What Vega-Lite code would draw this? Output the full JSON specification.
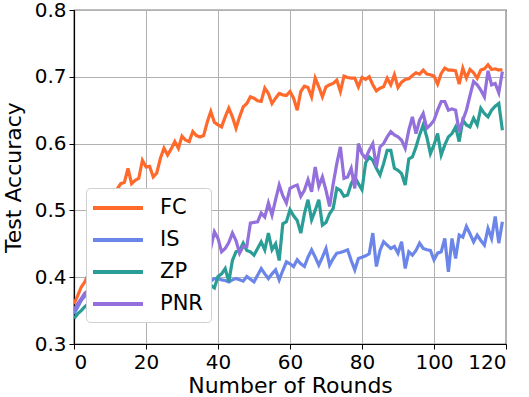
{
  "$schema": "https://vega.github.io/schema/vega-lite/v6.json",
  "width": 432,
  "height": 334,
  "autosize": "none",
  "padding": {"left": 74, "top": 10, "right": 23, "bottom": 53},
  "config": {
    "font": "DejaVu Sans",
    "view": {"stroke": "black", "strokeWidth": 1.2},
    "axis": {
      "domainColor": "black", "domainWidth": 1.2, "tickColor": "black", "tickSize": 5,
      "labelFontSize": 20, "labelColor": "black", "titleFontSize": 22, "titleFontWeight": "normal",
      "titleColor": "black", "gridColor": "#b0b0b0", "gridWidth": 1, "labelPadding": 3
    }
  },
  "data": {"values": [
{"r":0,"FC":0.360,"IS":0.345,"ZP":0.338,"PNR":0.351},
{"r":1,"FC":0.372,"IS":0.355,"ZP":0.345,"PNR":0.360},
{"r":2,"FC":0.385,"IS":0.365,"ZP":0.350,"PNR":0.368},
{"r":3,"FC":0.393,"IS":0.372,"ZP":0.356,"PNR":0.376},
{"r":4,"FC":0.405,"IS":0.378,"ZP":0.360,"PNR":0.380},
{"r":5,"FC":0.418,"IS":0.372,"ZP":0.358,"PNR":0.385},
{"r":6,"FC":0.430,"IS":0.382,"ZP":0.365,"PNR":0.382},
{"r":7,"FC":0.445,"IS":0.378,"ZP":0.362,"PNR":0.390},
{"r":8,"FC":0.458,"IS":0.385,"ZP":0.368,"PNR":0.395},
{"r":9,"FC":0.475,"IS":0.380,"ZP":0.372,"PNR":0.390},
{"r":10,"FC":0.490,"IS":0.388,"ZP":0.366,"PNR":0.398},
{"r":11,"FC":0.510,"IS":0.383,"ZP":0.374,"PNR":0.402},
{"r":12,"FC":0.532,"IS":0.390,"ZP":0.370,"PNR":0.397},
{"r":13,"FC":0.540,"IS":0.386,"ZP":0.378,"PNR":0.405},
{"r":14,"FC":0.542,"IS":0.392,"ZP":0.373,"PNR":0.410},
{"r":15,"FC":0.563,"IS":0.385,"ZP":0.380,"PNR":0.404},
{"r":16,"FC":0.540,"IS":0.390,"ZP":0.376,"PNR":0.412},
{"r":17,"FC":0.545,"IS":0.394,"ZP":0.382,"PNR":0.408},
{"r":18,"FC":0.548,"IS":0.388,"ZP":0.378,"PNR":0.416},
{"r":19,"FC":0.575,"IS":0.393,"ZP":0.384,"PNR":0.420},
{"r":20,"FC":0.565,"IS":0.387,"ZP":0.379,"PNR":0.413},
{"r":21,"FC":0.566,"IS":0.395,"ZP":0.386,"PNR":0.421},
{"r":22,"FC":0.550,"IS":0.390,"ZP":0.381,"PNR":0.425},
{"r":23,"FC":0.556,"IS":0.396,"ZP":0.387,"PNR":0.418},
{"r":24,"FC":0.578,"IS":0.388,"ZP":0.383,"PNR":0.427},
{"r":25,"FC":0.593,"IS":0.394,"ZP":0.389,"PNR":0.430},
{"r":26,"FC":0.583,"IS":0.398,"ZP":0.384,"PNR":0.424},
{"r":27,"FC":0.592,"IS":0.390,"ZP":0.390,"PNR":0.432},
{"r":28,"FC":0.603,"IS":0.395,"ZP":0.386,"PNR":0.436},
{"r":29,"FC":0.593,"IS":0.392,"ZP":0.392,"PNR":0.429},
{"r":30,"FC":0.611,"IS":0.398,"ZP":0.387,"PNR":0.438},
{"r":31,"FC":0.605,"IS":0.393,"ZP":0.393,"PNR":0.442},
{"r":32,"FC":0.603,"IS":0.397,"ZP":0.388,"PNR":0.434},
{"r":33,"FC":0.618,"IS":0.391,"ZP":0.394,"PNR":0.443},
{"r":34,"FC":0.612,"IS":0.396,"ZP":0.389,"PNR":0.446},
{"r":35,"FC":0.610,"IS":0.399,"ZP":0.395,"PNR":0.438},
{"r":36,"FC":0.612,"IS":0.392,"ZP":0.390,"PNR":0.447},
{"r":37,"FC":0.632,"IS":0.397,"ZP":0.394,"PNR":0.450},
{"r":38,"FC":0.648,"IS":0.394,"ZP":0.388,"PNR":0.444},
{"r":39,"FC":0.632,"IS":0.398,"ZP":0.384,"PNR":0.468},
{"r":40,"FC":0.628,"IS":0.398,"ZP":0.401,"PNR":0.458},
{"r":41,"FC":0.625,"IS":0.396,"ZP":0.405,"PNR":0.438},
{"r":42,"FC":0.640,"IS":0.395,"ZP":0.413,"PNR":0.443},
{"r":43,"FC":0.653,"IS":0.393,"ZP":0.393,"PNR":0.452},
{"r":44,"FC":0.640,"IS":0.396,"ZP":0.425,"PNR":0.466},
{"r":45,"FC":0.623,"IS":0.398,"ZP":0.438,"PNR":0.455},
{"r":46,"FC":0.640,"IS":0.396,"ZP":0.440,"PNR":0.436},
{"r":47,"FC":0.655,"IS":0.394,"ZP":0.451,"PNR":0.446},
{"r":48,"FC":0.660,"IS":0.401,"ZP":0.440,"PNR":0.446},
{"r":49,"FC":0.670,"IS":0.397,"ZP":0.438,"PNR":0.481},
{"r":50,"FC":0.668,"IS":0.393,"ZP":0.433,"PNR":0.482},
{"r":51,"FC":0.664,"IS":0.403,"ZP":0.443,"PNR":0.483},
{"r":52,"FC":0.663,"IS":0.413,"ZP":0.453,"PNR":0.496},
{"r":53,"FC":0.683,"IS":0.405,"ZP":0.441,"PNR":0.490},
{"r":54,"FC":0.675,"IS":0.398,"ZP":0.466,"PNR":0.511},
{"r":55,"FC":0.660,"IS":0.405,"ZP":0.441,"PNR":0.493},
{"r":56,"FC":0.668,"IS":0.411,"ZP":0.450,"PNR":0.516},
{"r":57,"FC":0.675,"IS":0.396,"ZP":0.425,"PNR":0.538},
{"r":58,"FC":0.673,"IS":0.410,"ZP":0.480,"PNR":0.522},
{"r":59,"FC":0.672,"IS":0.423,"ZP":0.483,"PNR":0.511},
{"r":60,"FC":0.678,"IS":0.420,"ZP":0.501,"PNR":0.533},
{"r":61,"FC":0.668,"IS":0.416,"ZP":0.492,"PNR":0.536},
{"r":62,"FC":0.650,"IS":0.426,"ZP":0.485,"PNR":0.538},
{"r":63,"FC":0.678,"IS":0.420,"ZP":0.466,"PNR":0.521},
{"r":64,"FC":0.686,"IS":0.416,"ZP":0.495,"PNR":0.530},
{"r":65,"FC":0.684,"IS":0.430,"ZP":0.516,"PNR":0.546},
{"r":66,"FC":0.670,"IS":0.441,"ZP":0.486,"PNR":0.528},
{"r":67,"FC":0.698,"IS":0.430,"ZP":0.500,"PNR":0.565},
{"r":68,"FC":0.685,"IS":0.418,"ZP":0.516,"PNR":0.536},
{"r":69,"FC":0.670,"IS":0.430,"ZP":0.478,"PNR":0.550},
{"r":70,"FC":0.685,"IS":0.443,"ZP":0.482,"PNR":0.530},
{"r":71,"FC":0.688,"IS":0.418,"ZP":0.495,"PNR":0.506},
{"r":72,"FC":0.690,"IS":0.428,"ZP":0.503,"PNR":0.540},
{"r":73,"FC":0.695,"IS":0.436,"ZP":0.533,"PNR":0.570},
{"r":74,"FC":0.678,"IS":0.437,"ZP":0.530,"PNR":0.595},
{"r":75,"FC":0.701,"IS":0.439,"ZP":0.521,"PNR":0.548},
{"r":76,"FC":0.699,"IS":0.441,"ZP":0.523,"PNR":0.550},
{"r":77,"FC":0.698,"IS":0.425,"ZP":0.540,"PNR":0.563},
{"r":78,"FC":0.698,"IS":0.411,"ZP":0.550,"PNR":0.533},
{"r":79,"FC":0.685,"IS":0.428,"ZP":0.540,"PNR":0.600},
{"r":80,"FC":0.699,"IS":0.430,"ZP":0.531,"PNR":0.585},
{"r":81,"FC":0.696,"IS":0.432,"ZP":0.571,"PNR":0.578},
{"r":82,"FC":0.700,"IS":0.435,"ZP":0.580,"PNR":0.590},
{"r":83,"FC":0.688,"IS":0.466,"ZP":0.575,"PNR":0.600},
{"r":84,"FC":0.679,"IS":0.416,"ZP":0.563,"PNR":0.565},
{"r":85,"FC":0.683,"IS":0.440,"ZP":0.553,"PNR":0.595},
{"r":86,"FC":0.685,"IS":0.453,"ZP":0.570,"PNR":0.600},
{"r":87,"FC":0.698,"IS":0.448,"ZP":0.590,"PNR":0.610},
{"r":88,"FC":0.688,"IS":0.443,"ZP":0.590,"PNR":0.618},
{"r":89,"FC":0.703,"IS":0.446,"ZP":0.563,"PNR":0.613},
{"r":90,"FC":0.684,"IS":0.436,"ZP":0.560,"PNR":0.610},
{"r":91,"FC":0.692,"IS":0.453,"ZP":0.555,"PNR":0.605},
{"r":92,"FC":0.696,"IS":0.413,"ZP":0.538,"PNR":0.593},
{"r":93,"FC":0.697,"IS":0.438,"ZP":0.577,"PNR":0.620},
{"r":94,"FC":0.702,"IS":0.433,"ZP":0.580,"PNR":0.640},
{"r":95,"FC":0.706,"IS":0.440,"ZP":0.595,"PNR":0.615},
{"r":96,"FC":0.704,"IS":0.451,"ZP":0.613,"PNR":0.635},
{"r":97,"FC":0.710,"IS":0.443,"ZP":0.628,"PNR":0.645},
{"r":98,"FC":0.704,"IS":0.441,"ZP":0.610,"PNR":0.623},
{"r":99,"FC":0.703,"IS":0.440,"ZP":0.585,"PNR":0.628},
{"r":100,"FC":0.701,"IS":0.426,"ZP":0.598,"PNR":0.635},
{"r":101,"FC":0.689,"IS":0.436,"ZP":0.615,"PNR":0.650},
{"r":102,"FC":0.705,"IS":0.438,"ZP":0.583,"PNR":0.663},
{"r":103,"FC":0.713,"IS":0.458,"ZP":0.598,"PNR":0.663},
{"r":104,"FC":0.710,"IS":0.408,"ZP":0.610,"PNR":0.650},
{"r":105,"FC":0.710,"IS":0.458,"ZP":0.615,"PNR":0.652},
{"r":106,"FC":0.709,"IS":0.428,"ZP":0.625,"PNR":0.650},
{"r":107,"FC":0.689,"IS":0.463,"ZP":0.603,"PNR":0.618},
{"r":108,"FC":0.713,"IS":0.460,"ZP":0.635,"PNR":0.635},
{"r":109,"FC":0.698,"IS":0.476,"ZP":0.628,"PNR":0.650},
{"r":110,"FC":0.711,"IS":0.465,"ZP":0.625,"PNR":0.672},
{"r":111,"FC":0.706,"IS":0.453,"ZP":0.638,"PNR":0.693},
{"r":112,"FC":0.698,"IS":0.463,"ZP":0.628,"PNR":0.688},
{"r":113,"FC":0.710,"IS":0.455,"ZP":0.653,"PNR":0.680},
{"r":114,"FC":0.712,"IS":0.448,"ZP":0.645,"PNR":0.670},
{"r":115,"FC":0.718,"IS":0.473,"ZP":0.640,"PNR":0.709},
{"r":116,"FC":0.711,"IS":0.458,"ZP":0.650,"PNR":0.688},
{"r":117,"FC":0.712,"IS":0.491,"ZP":0.656,"PNR":0.690},
{"r":118,"FC":0.710,"IS":0.451,"ZP":0.660,"PNR":0.676},
{"r":119,"FC":0.711,"IS":0.483,"ZP":0.620,"PNR":0.708}
  ]},
  "transform": [{"fold": ["FC", "IS", "ZP", "PNR"], "as": ["method", "acc"]}],
  "mark": {"type": "line", "strokeWidth": 3.2, "clip": true},
  "encoding": {
    "x": {"field": "r", "type": "quantitative", "title": "Number of Rounds",
          "scale": {"domain": [0, 120], "nice": false, "zero": false},
          "axis": {"values": [0, 20, 40, 60, 80, 100, 120], "titlePadding": 3}},
    "y": {"field": "acc", "type": "quantitative", "title": "Test Accuracy",
          "scale": {"domain": [0.3, 0.8], "nice": false, "zero": false},
          "axis": {"values": [0.3, 0.4, 0.5, 0.6, 0.7, 0.8], "format": ".1f", "titlePadding": 9}},
    "color": {"field": "method", "type": "nominal",
              "scale": {"domain": ["FC", "IS", "ZP", "PNR"], "range": ["#ff6a2c", "#6b86e8", "#2a9d96", "#9370db"]},
              "legend": {"orient": "none", "legendX": 12, "legendY": 178, "title": null,
                         "symbolType": "M-1.3,0H3.7", "symbolSize": 400, "symbolStrokeWidth": 4,
                         "labelFontSize": 21, "labelColor": "black", "labelOffset": 42, "rowPadding": 10,
                         "padding": 8, "cornerRadius": 4, "strokeColor": "#d0d0d0",
                         "fillColor": "white"}},
    "order": {"field": "method"}
  }
}
